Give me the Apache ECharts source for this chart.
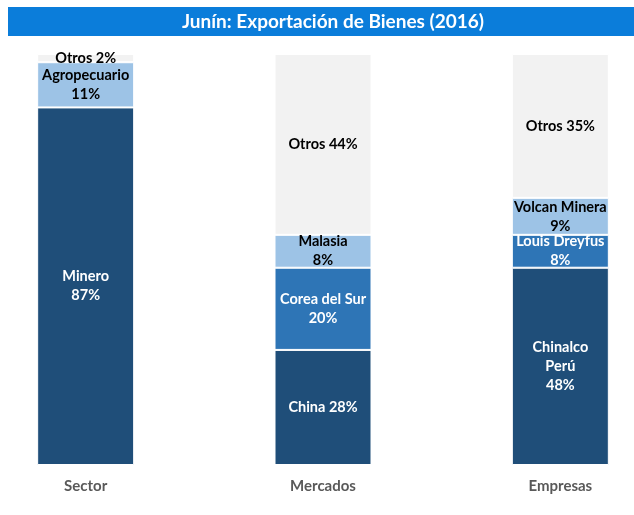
<!DOCTYPE html>
<html>
<head>
<meta charset="utf-8">
<title>Junín: Exportación de Bienes (2016)</title>
<script src="https://cdn.jsdelivr.net/npm/echarts@6/dist/echarts.min.js"></script>
<style>
  html, body { margin: 0; padding: 0; background: #fff; }
  #chart { width: 634px; height: 515px; }
</style>
</head>
<body>
<div id="chart"></div>
<script>
// data (shares in %)
const categories = ['Sector', 'Mercados', 'Empresas']
const sectorNames = ['Minero', 'Agropecuario', 'Otros']
const sectorValues = [87, 11, 2]
const mercadosNames = ['China', 'Corea del Sur', 'Malasia', 'Otros']
const mercadosValues = [28, 20, 8, 44]
const empresasNames = ['Chinalco\nPerú', 'Louis Dreyfus', 'Volcan Minera', 'Otros']
const empresasValues = [48, 8, 9, 35]
// labels written on one line in the original
const singleLine = ['Otros', 'China']

const groups = [
  { names: sectorNames, values: sectorValues },
  { names: mercadosNames, values: mercadosValues },
  { names: empresasNames, values: empresasValues }
]

const DARK = '#1F4E79'
const MID = '#2E75B6'
const LIGHT = '#9DC3E6'
const GREY = '#F2F2F2'

// shade of a segment: dark at the bottom, light for the last named one, grey for "Otros"
function shade(names, i) {
  if (names[i] === 'Otros') return GREY
  const named = names.filter(n => n !== 'Otros').length
  if (i === 0) return DARK
  if (i === named - 1) return LIGHT
  return MID
}

const levels = Math.max(...groups.map(g => g.values.length))
const series = []
for (let lv = 0; lv < levels; lv++) {
  series.push({
    type: 'bar',
    stack: 'total',
    barWidth: 97,
    data: groups.map(g => {
      if (lv >= g.values.length) return { value: 0, label: { show: false } }
      const color = shade(g.names, lv)
      const name = g.names[lv]
      const sep = singleLine.indexOf(name) >= 0 ? ' ' : '\n'
      return {
        value: g.values[lv],
        name: name,
        itemStyle: { color: color },
        label: {
          show: true,
          formatter: name + sep + g.values[lv] + '%',
          color: (color === DARK || color === MID) ? '#FFFFFF' : '#000000'
        }
      }
    }),
    itemStyle: {
      borderColor: '#FFFFFF',
      borderWidth: 1
    },
    label: {
      position: 'inside',
      fontFamily: 'Lato',
      fontWeight: 'bold',
      fontSize: 14.5,
      lineHeight: 19
    }
  })
}

const chart = echarts.init(document.getElementById('chart'))
chart.setOption({
  animation: false,
  backgroundColor: '#FFFFFF',
  graphic: [{
    type: 'rect',
    left: 8,
    top: 7,
    shape: { width: 626, height: 29 },
    style: { fill: '#0B7DDA' },
    z: 0
  }],
  title: {
    text: 'Junín: Exportación de Bienes (2016)',
    left: 328,
    top: 7,
    textAlign: 'center',
    textStyle: {
      color: '#FFFFFF',
      fontFamily: 'Lato',
      fontWeight: 'bold',
      fontSize: 19
    }
  },
  grid: {
    top: 54,
    bottom: 50,
    left: -33,
    right: -45,
    outerBoundsMode: 'none'
  },
  xAxis: {
    type: 'category',
    data: categories,
    axisLine: { show: false },
    axisTick: { show: false },
    axisLabel: {
      margin: 14,
      color: '#595959',
      fontFamily: 'Lato',
      fontWeight: 'bold',
      fontSize: 15
    }
  },
  yAxis: {
    type: 'value',
    min: 0,
    max: 100,
    show: false,
    splitLine: { show: false }
  },
  series: series
})
</script>
</body>
</html>
